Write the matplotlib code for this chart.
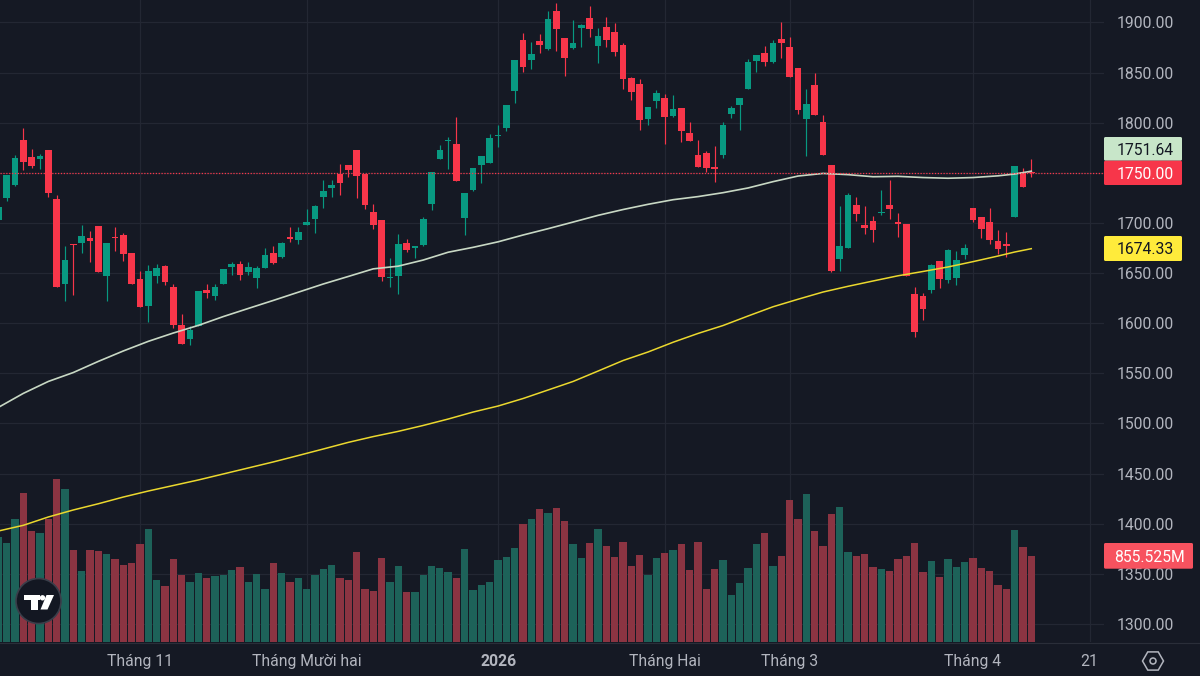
import matplotlib
matplotlib.use("Agg")
import matplotlib.pyplot as plt
from matplotlib.patches import Circle, FancyBboxPatch, Polygon, Rectangle, RegularPolygon
from matplotlib.transforms import Affine2D
import numpy as np

plt.rcParams['font.family'] = ['Roboto', 'DejaVu Sans']

# values
opens = [
    1702.5, 1724.8, 1737.5, 1782.4, 1765.7, 1763.4, 1773, 1723.5, 1639.4, 1679.3,
    1680.3, 1684.6, 1696.6, 1647, 1685.6, 1688.2, 1669.6, 1644, 1617.4, 1647,
    1656.7, 1635.7, 1597.8, 1584.2, 1597.1, 1632.7, 1626.7, 1639.4, 1656, 1658.7,
    1651.3, 1645, 1655, 1669.7, 1666, 1685.6, 1683, 1698, 1704.3, 1725.5,
    1734.9, 1748.5, 1757.5, 1772.4, 1748.5, 1710.6, 1703.3, 1644.7, 1647, 1679.7,
    1674.7, 1678.3, 1718.9, 1764.1, 1781.7, 1778.7, 1705.3, 1732.9, 1757.8, 1759.8,
    1786.7, 1794.9, 1831.9, 1882.4, 1862.5, 1881.4, 1873.4, 1911.3, 1884.4, 1874.4,
    1894.7, 1904.7, 1876.4, 1895.4, 1890.7, 1877.1, 1844.5, 1838.2, 1803.3, 1821.9,
    1824.5, 1806.9, 1814.2, 1789.3, 1768, 1769.7, 1756, 1767.4, 1808.9, 1817.9,
    1833.9, 1861.5, 1869.4, 1860.8, 1883.4, 1876, 1854.8, 1803.6, 1837.2, 1801.2,
    1757.7, 1663.9, 1675.2, 1717.5, 1697.8, 1701.5, 1709.8, 1718.1, 1700.5, 1698.5,
    1629.3, 1626.7, 1633.3, 1661.6, 1643.3, 1645.3, 1668.2, 1714.5, 1706.2, 1700.5,
    1681.9, 1678.6, 1706.2, 1751, 1751,
]
closes = [
    1716, 1747.4, 1765.1, 1760.7, 1756.7, 1766.7, 1730.1, 1636, 1663.3, 1678,
    1687.3, 1681.9, 1651.3, 1680, 1684.9, 1669.3, 1638.7, 1616.4, 1652.3, 1655,
    1641.4, 1598.1, 1579.5, 1593.2, 1631.7, 1630, 1635.7, 1654, 1659.3, 1648,
    1655.7, 1654.7, 1668, 1660, 1680, 1684, 1691.3, 1701.3, 1716.9, 1731.5,
    1737.5, 1740.2, 1753.1, 1746.8, 1718.2, 1698, 1646.1, 1645.7, 1679, 1672.7,
    1677.3, 1703.9, 1751.1, 1772.4, 1782.7, 1742.2, 1729.9, 1754.8, 1766.8, 1784.4,
    1788, 1817.2, 1862.1, 1855.1, 1868.8, 1877.4, 1903, 1893.7, 1864.4, 1879.7,
    1897.4, 1893.7, 1886.4, 1882.7, 1870.8, 1843.2, 1830.2, 1802.6, 1815.2, 1829.2,
    1805.9, 1813.2, 1791.3, 1782, 1755.4, 1754.4, 1753.4, 1797.6, 1814.6, 1824.2,
    1860.5, 1867.8, 1860.8, 1880, 1880, 1845.8, 1812.9, 1818.9, 1807.9, 1767.3,
    1651.9, 1676.6, 1728.1, 1709.1, 1695.2, 1692.5, 1710.8, 1713.8, 1699.2, 1647.3,
    1590.8, 1614.4, 1657.9, 1644.3, 1672.9, 1662.6, 1674.9, 1702.5, 1694.2, 1683.2,
    1674.2, 1677.2, 1756.7, 1736, 1750,
]
highs = [
    1716, 1747.4, 1767.4, 1794.3, 1773.4, 1769, 1773, 1727.5, 1677.3, 1679.3,
    1697.6, 1692.2, 1696.6, 1680, 1695.6, 1690.2, 1669.6, 1652.3, 1658.3, 1659.3,
    1658.3, 1638.7, 1608.8, 1596.8, 1631.7, 1638.7, 1638.7, 1654, 1660.6, 1661.7,
    1660.6, 1657, 1674.6, 1676.7, 1681.3, 1696, 1696, 1713.6, 1718.2, 1742.5,
    1742.5, 1758.5, 1758.1, 1772.4, 1748.5, 1718.9, 1703.3, 1665.4, 1689.3, 1683.6,
    1677.3, 1705.9, 1751.1, 1778, 1785.4, 1806, 1729.9, 1754.8, 1766.8, 1788.4,
    1797.4, 1817.2, 1862.1, 1889.4, 1880.7, 1888.4, 1911.3, 1919, 1884.4, 1902,
    1898.4, 1916, 1894.7, 1905, 1899.4, 1880, 1845.5, 1843.2, 1815.2, 1832.5,
    1828.2, 1827.5, 1814.2, 1800.6, 1783, 1771.7, 1776.7, 1800.6, 1816.6, 1824.2,
    1863.1, 1867.8, 1876.4, 1882.4, 1900, 1885.4, 1854.8, 1833.5, 1849.5, 1807.6,
    1757.7, 1717.1, 1730.1, 1725.4, 1717.1, 1707.1, 1732.8, 1743, 1709.8, 1698.5,
    1636, 1630.3, 1658.6, 1661.6, 1673.9, 1671.9, 1678.6, 1714.5, 1706.2, 1714.5,
    1693.2, 1690.9, 1756.7, 1755, 1763.7,
]
lows = [
    1702, 1721.5, 1736.5, 1753.1, 1754.8, 1753.8, 1725.5, 1636, 1621.8, 1628.4,
    1670, 1661, 1651.3, 1621.8, 1672, 1662, 1638.7, 1616.4, 1600.8, 1640.4,
    1637.7, 1595.1, 1579.5, 1578.5, 1597.1, 1625.4, 1622.7, 1639.4, 1648, 1643,
    1648, 1635, 1655, 1659, 1664.7, 1681, 1679, 1698, 1690.3, 1715.2,
    1725.5, 1728.2, 1745.8, 1724.9, 1714.2, 1694, 1642.4, 1635.8, 1629.1, 1670.7,
    1665, 1677.3, 1712.6, 1763.4, 1753.8, 1742.2, 1687.6, 1731.9, 1739.8, 1759.8,
    1775.4, 1791.3, 1819.9, 1850.5, 1853.8, 1869.8, 1872.4, 1871.8, 1846.5, 1873.4,
    1875.4, 1885.7, 1859.8, 1875.1, 1866.8, 1833.5, 1822.5, 1793, 1797.6, 1814.2,
    1778.3, 1805.9, 1781, 1782, 1755.4, 1750.4, 1741, 1764.4, 1805, 1793,
    1833.9, 1850.2, 1856.8, 1859.8, 1864.1, 1845.1, 1808.9, 1767, 1807.2, 1767.3,
    1651, 1651.6, 1675.2, 1701.5, 1688.9, 1681.2, 1707.8, 1703.5, 1686.2, 1647.3,
    1586.5, 1602.7, 1629.7, 1635.3, 1640.6, 1638.3, 1663.9, 1700.8, 1685.2, 1679.5,
    1669.2, 1665.6, 1706.2, 1736, 1746,
]
# volume in millions
volumes = [
    1044, 985, 1222, 1480, 1104, 1084, 1216, 1616, 1517, 912,
    700, 912, 902, 872, 819, 763, 783, 968, 1120, 615,
    555, 819, 664, 598, 684, 638, 654, 664, 710, 747,
    598, 674, 525, 783, 684, 598, 638, 525, 664, 720,
    763, 638, 618, 892, 525, 506, 829, 598, 753, 499,
    499, 664, 753, 730, 691, 638, 922, 515, 565, 598,
    813, 839, 932, 1170, 1216, 1315, 1279, 1325, 1196, 975,
    829, 985, 1120, 948, 839, 994, 753, 866, 664, 829,
    882, 912, 968, 710, 994, 525, 720, 813, 463, 581,
    737, 968, 1077, 753, 856, 1408, 1216, 1464, 1097, 948,
    1269, 1335, 892, 856, 872, 747, 727, 700, 819, 856,
    985, 691, 803, 644, 819, 747, 793, 829, 737, 700,
    562, 525, 1113, 938, 855.525,
]

# both moving averages read every third session
ma_idx = [0, 3, 6, 9, 12, 15, 18, 21, 24, 27, 30, 33, 36, 39, 42, 45, 48, 51, 54, 57, 60, 63,
          66, 69, 72, 75, 78, 81, 84, 87, 90, 93, 96, 99, 102, 105, 108, 111, 114, 117, 120, 122, 124]
ma_fast = [1516, 1530, 1541.9, 1550.8, 1561.9, 1572.3, 1581.9, 1590.2, 1597.8, 1606.6, 1614.7, 1622.7, 1630.9,
           1639.1, 1646.6, 1654.2, 1656.9, 1663, 1670.8, 1675.7, 1681.2, 1688, 1694.3, 1700.9, 1707.6, 1713.4,
           1718.6, 1723.2, 1726.3, 1730.2, 1734.9, 1741.2, 1746.8, 1749.4, 1748.2, 1746.1, 1746.5, 1745.3,
           1744.6, 1745.3, 1747, 1748.8, 1751.64]
ma_slow = [1392.7, 1398.4, 1406.7, 1413.7, 1419.9, 1426.6, 1432.6, 1438.1, 1443.6, 1449.6, 1455.6, 1461.6, 1468,
           1474.5, 1481.1, 1486.9, 1492.1, 1498, 1504.4, 1511.4, 1517.4, 1524.9, 1533.4, 1541.9, 1552.3, 1562.8,
           1571.3, 1581, 1589.8, 1597.7, 1607.2, 1616.4, 1623.9, 1631.1, 1636.8, 1642.1, 1647.3, 1651.6,
           1656.1, 1661.4, 1667, 1671, 1674.33]

price_ticks = [1300, 1350, 1400, 1450, 1500, 1550, 1600, 1650, 1700, 1750, 1800, 1850, 1900]
month_pos = [17, 37, 60, 80, 95, 117, 131]
month_labels = ['Tháng 11', 'Tháng Mười hai', '2026', 'Tháng Hai', 'Tháng 3', 'Tháng 4', '21']
last_price = 1750.0

BG = '#151924'
GRID = '#232733'
UP = '#089981'
DOWN = '#F7364A'
UP_VOL = '#1D6259'
DOWN_VOL = '#8B3442'
TEXT = '#B2B5BE'

x = np.arange(len(opens))
opens, closes, highs, lows = map(np.array, (opens, closes, highs, lows))
colors = np.where(closes >= opens, UP, DOWN)
vol_colors = np.where(closes >= opens, UP_VOL, DOWN_VOL)

W, H = 1200, 676
fig = plt.figure(figsize=(12, 6.76), dpi=100, facecolor=BG)
pos = [0, 1 - 642 / H, 1104 / W, 642 / H]

# three layers: grid and ticks, then volume, then candles and lines
ax_base = fig.add_axes(pos, facecolor=BG, zorder=1)
ax_vol = fig.add_axes(pos, zorder=2)
ax = fig.add_axes(pos, zorder=3)

ax_vol.bar(x, volumes, width=0.88, color=vol_colors, linewidth=0)
ax_vol.set_ylim(0, 6362)
ax_vol.axis('off')

ax.vlines(x, lows, highs, color=colors, linewidth=0.85)
ax.bar(x, np.abs(closes - opens), bottom=np.minimum(opens, closes), width=0.8, color=colors, linewidth=0)
ax.plot(ma_idx, ma_fast, color='#C8D8C4', linewidth=1.2)
ax.plot(ma_idx, ma_slow, color='#EBD82E', linewidth=1.1)
ax.axhline(last_price, color=DOWN, linewidth=0.9, linestyle=(0, (1, 1.3)))
ax.axis('off')

for a in (ax, ax_vol, ax_base):
    a.set_xlim(0.2, 132.73)
for a in (ax, ax_base):
    a.set_ylim(1282, 1922.4)
for s in ax_base.spines.values():
    s.set_visible(False)

ax_base.grid(True, color=GRID, linewidth=0.9)
ax_base.yaxis.tick_right()
ax_base.set_yticks(price_ticks)
ax_base.set_yticklabels([f'{p:.2f}' for p in price_ticks], ha='right', fontsize=11.3, color=TEXT)
ax_base.tick_params(axis='y', length=0, pad=50.4)
ax_base.set_xticks(month_pos)
ax_base.set_xticklabels(month_labels, fontsize=11.3, color=TEXT)
ax_base.tick_params(axis='x', length=0, pad=8.5)
ax_base.get_xticklabels()[2].set_fontweight('bold')

# pixel coordinates from the top left for the overlay bits
px = Affine2D().scale(1 / W, -1 / H).translate(0, 1) + fig.transFigure


def add(patch):
    patch.set_transform(px)
    patch.set_zorder(10)
    fig.add_artist(patch)


def price_label(y0, y1, right, txt, bg, fg, weight='normal', size=11.3):
    add(FancyBboxPatch((1104, y0), right - 1104, y1 - y0, boxstyle='round,pad=0,rounding_size=1.5',
                       facecolor=bg, edgecolor='none'))
    fig.text((right - 8) / W, 1 - (y0 + y1) / 2 / H, txt, ha='right', va='center_baseline',
             color=fg, fontsize=size, fontweight=weight, zorder=11)


fig.add_artist(plt.Line2D([0, 1], [1 - 642.5 / H] * 2, color='#2A2E39', linewidth=0.8, zorder=4))
price_label(137, 160.7, 1182, f'{ma_fast[-1]:.2f}', '#C8E6C9', '#131722')
price_label(160.7, 185, 1182, f'{last_price:.2f}', DOWN, 'white')
price_label(236, 261, 1182, f'{ma_slow[-1]:.2f}', '#FFEB3B', '#131722')
price_label(543, 568.7, 1193, f'{volumes[-1]:.3f}M', '#F7525F', 'white')

# TradingView badge
add(Circle((38.5, 601), 22.5, facecolor='#131722', edgecolor='#3A3E4A', linewidth=1.2))
add(Rectangle((23.7, 595), 16.3, 5.3, facecolor='white', edgecolor='none'))
add(Rectangle((31, 595), 7, 14.5, facecolor='white', edgecolor='none'))
add(Circle((42.5, 597.8), 2.7, facecolor='white', edgecolor='none'))
add(Polygon([(46.5, 595), (54, 595), (47.5, 609.5), (40.5, 609.5)], facecolor='white', edgecolor='none'))

# settings icon
add(RegularPolygon((1153, 661), 6, radius=10.5, orientation=np.pi / 6, facecolor='none',
                   edgecolor=TEXT, linewidth=1.1))
add(Circle((1153, 661), 3, facecolor='none', edgecolor=TEXT, linewidth=1.1))

fig.savefig('out.png', dpi=100, facecolor=BG)
